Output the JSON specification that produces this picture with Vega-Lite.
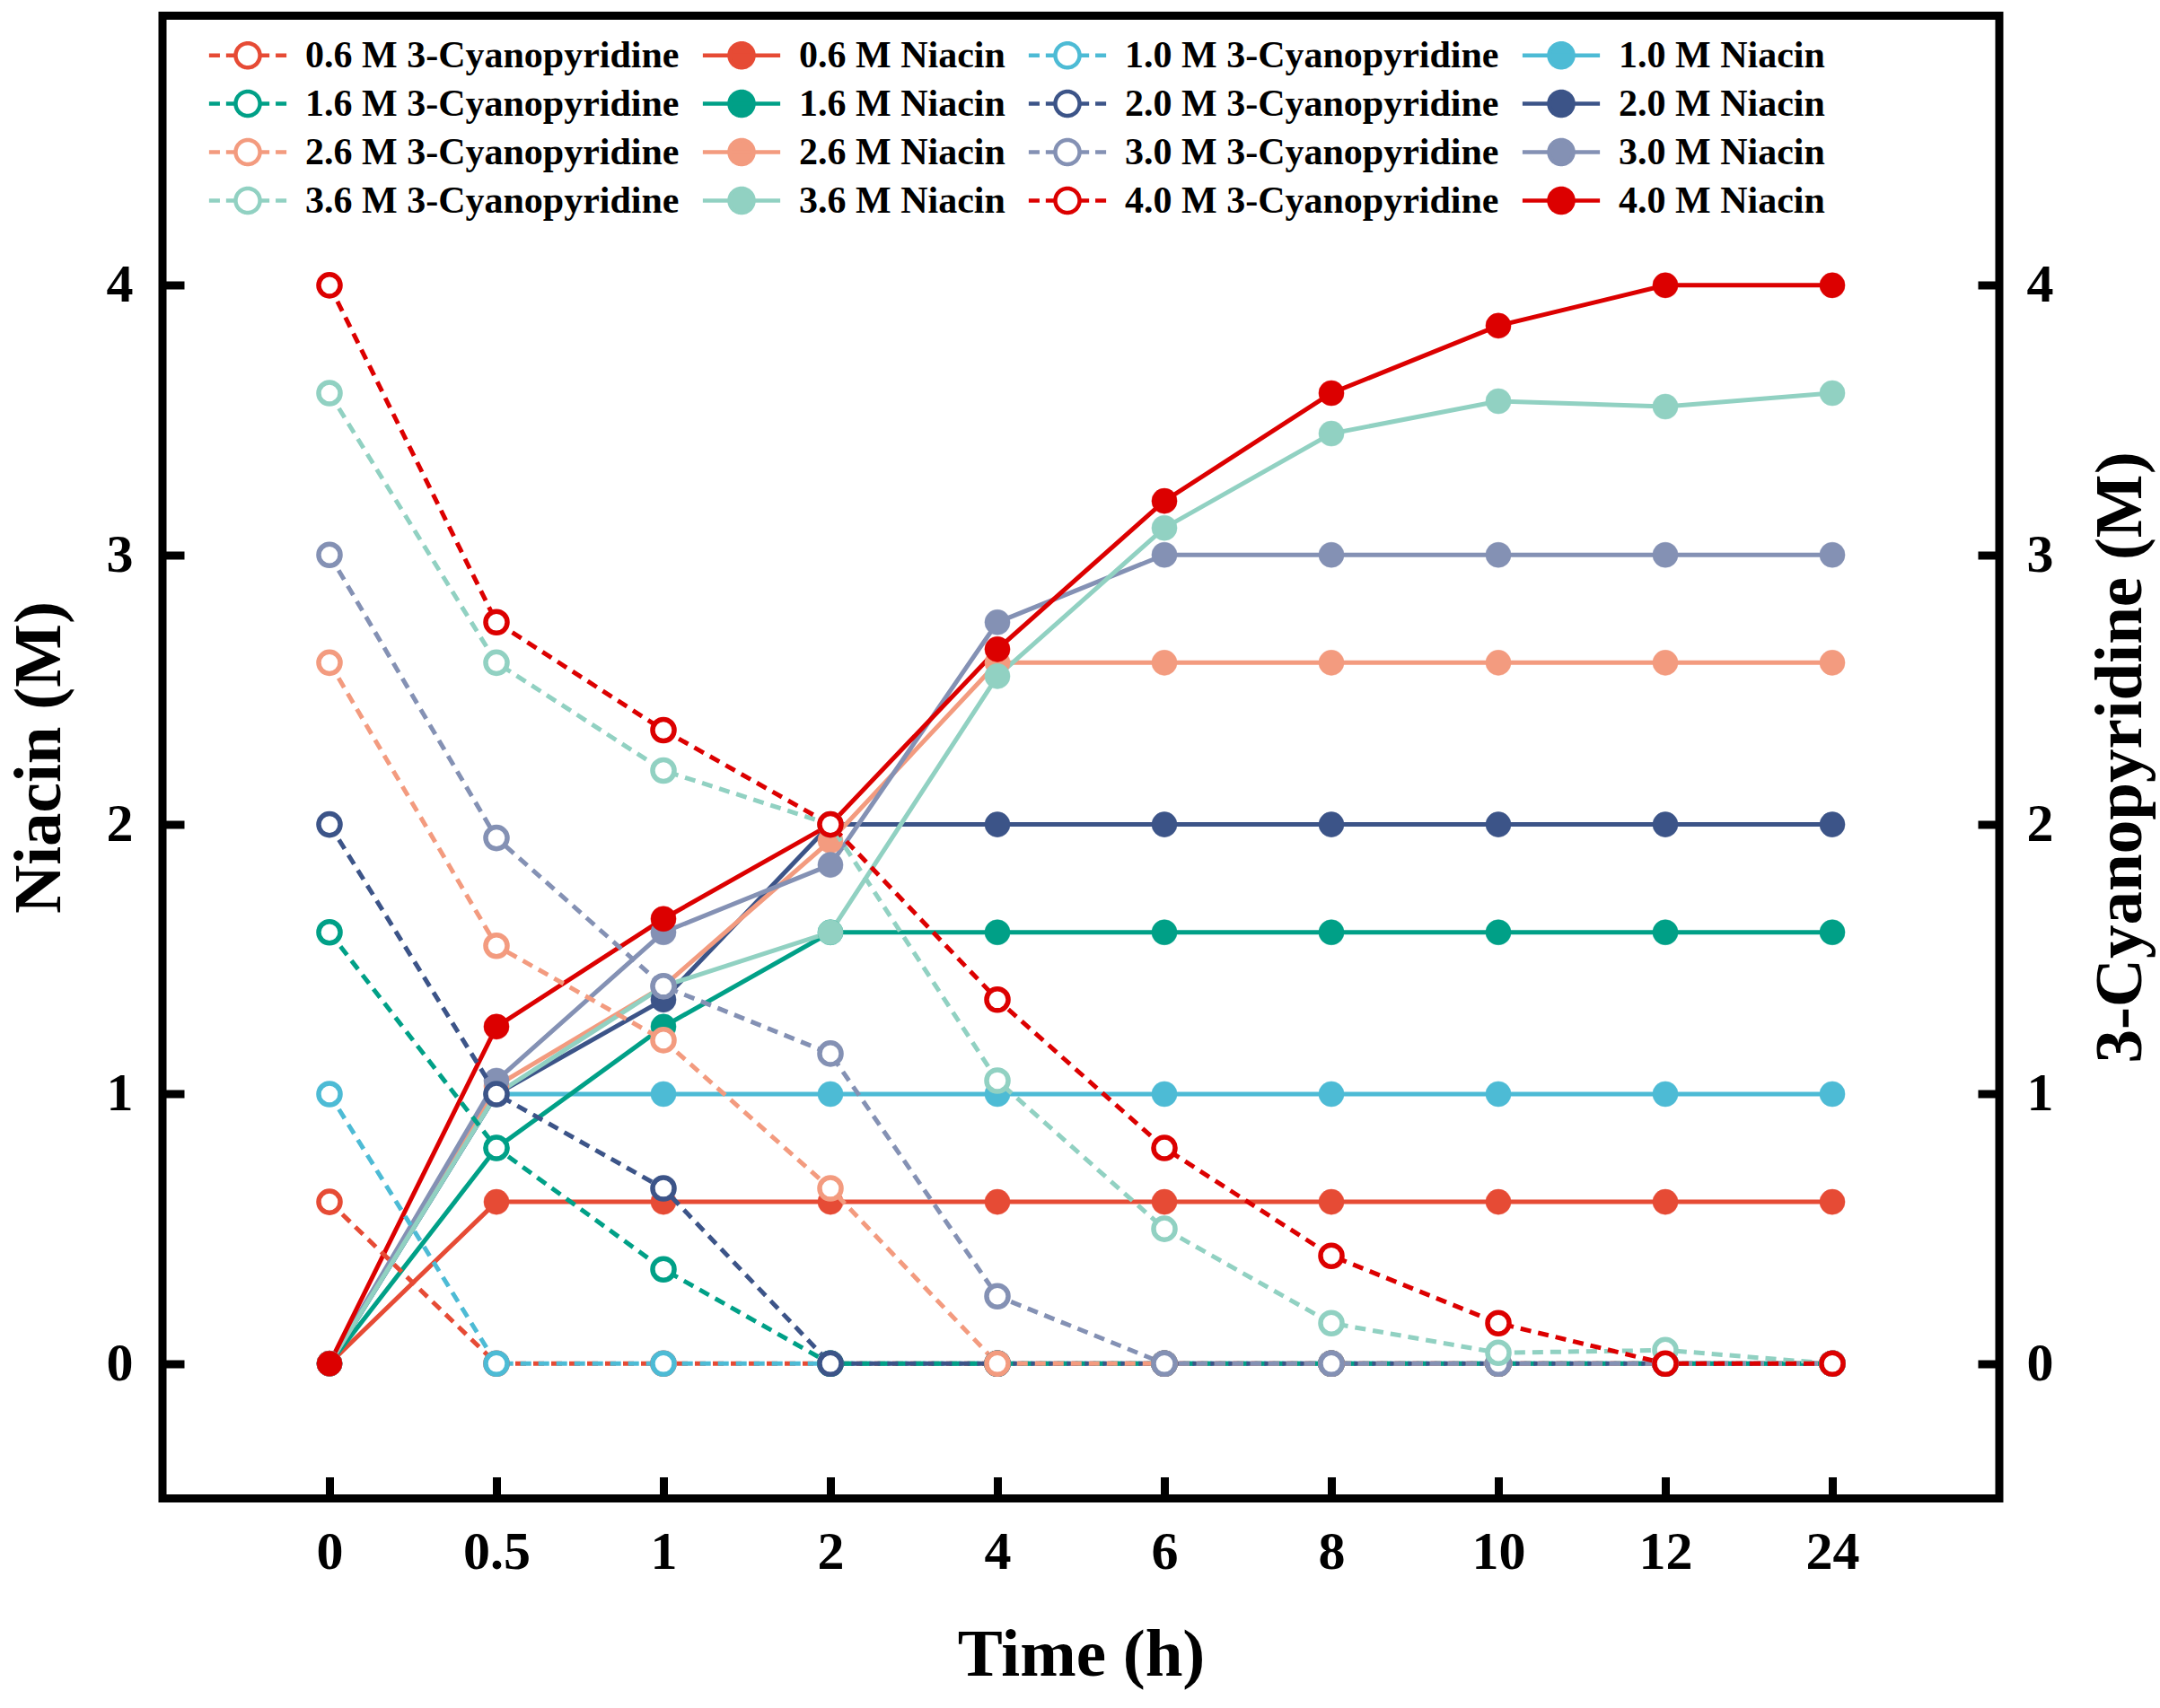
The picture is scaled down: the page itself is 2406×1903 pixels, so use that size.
{
  "$schema": "https://vega.github.io/schema/vega-lite/v6.json",
  "width": 2046,
  "height": 1652,
  "autosize": {"type": "none"},
  "padding": {"left": 181, "top": 17.5, "right": 179, "bottom": 233},
  "background": "white",
  "data": {
    "values": [
      {"s": "0.6 M Niacin", "k": "N", "t": 0, "v": 0}, {"s": "0.6 M Niacin", "k": "N", "t": 0.5, "v": 0.6}, {"s": "0.6 M Niacin", "k": "N", "t": 1, "v": 0.6}, {"s": "0.6 M Niacin", "k": "N", "t": 2, "v": 0.6}, {"s": "0.6 M Niacin", "k": "N", "t": 4, "v": 0.6}, {"s": "0.6 M Niacin", "k": "N", "t": 6, "v": 0.6}, {"s": "0.6 M Niacin", "k": "N", "t": 8, "v": 0.6}, {"s": "0.6 M Niacin", "k": "N", "t": 10, "v": 0.6}, {"s": "0.6 M Niacin", "k": "N", "t": 12, "v": 0.6}, {"s": "0.6 M Niacin", "k": "N", "t": 24, "v": 0.6},
      {"s": "1.0 M Niacin", "k": "N", "t": 0, "v": 0}, {"s": "1.0 M Niacin", "k": "N", "t": 0.5, "v": 1.0}, {"s": "1.0 M Niacin", "k": "N", "t": 1, "v": 1.0}, {"s": "1.0 M Niacin", "k": "N", "t": 2, "v": 1.0}, {"s": "1.0 M Niacin", "k": "N", "t": 4, "v": 1.0}, {"s": "1.0 M Niacin", "k": "N", "t": 6, "v": 1.0}, {"s": "1.0 M Niacin", "k": "N", "t": 8, "v": 1.0}, {"s": "1.0 M Niacin", "k": "N", "t": 10, "v": 1.0}, {"s": "1.0 M Niacin", "k": "N", "t": 12, "v": 1.0}, {"s": "1.0 M Niacin", "k": "N", "t": 24, "v": 1.0},
      {"s": "1.6 M Niacin", "k": "N", "t": 0, "v": 0}, {"s": "1.6 M Niacin", "k": "N", "t": 0.5, "v": 0.8}, {"s": "1.6 M Niacin", "k": "N", "t": 1, "v": 1.25}, {"s": "1.6 M Niacin", "k": "N", "t": 2, "v": 1.6}, {"s": "1.6 M Niacin", "k": "N", "t": 4, "v": 1.6}, {"s": "1.6 M Niacin", "k": "N", "t": 6, "v": 1.6}, {"s": "1.6 M Niacin", "k": "N", "t": 8, "v": 1.6}, {"s": "1.6 M Niacin", "k": "N", "t": 10, "v": 1.6}, {"s": "1.6 M Niacin", "k": "N", "t": 12, "v": 1.6}, {"s": "1.6 M Niacin", "k": "N", "t": 24, "v": 1.6},
      {"s": "2.0 M Niacin", "k": "N", "t": 0, "v": 0}, {"s": "2.0 M Niacin", "k": "N", "t": 0.5, "v": 1.0}, {"s": "2.0 M Niacin", "k": "N", "t": 1, "v": 1.35}, {"s": "2.0 M Niacin", "k": "N", "t": 2, "v": 2.0}, {"s": "2.0 M Niacin", "k": "N", "t": 4, "v": 2.0}, {"s": "2.0 M Niacin", "k": "N", "t": 6, "v": 2.0}, {"s": "2.0 M Niacin", "k": "N", "t": 8, "v": 2.0}, {"s": "2.0 M Niacin", "k": "N", "t": 10, "v": 2.0}, {"s": "2.0 M Niacin", "k": "N", "t": 12, "v": 2.0}, {"s": "2.0 M Niacin", "k": "N", "t": 24, "v": 2.0},
      {"s": "2.6 M Niacin", "k": "N", "t": 0, "v": 0}, {"s": "2.6 M Niacin", "k": "N", "t": 0.5, "v": 1.03}, {"s": "2.6 M Niacin", "k": "N", "t": 1, "v": 1.4}, {"s": "2.6 M Niacin", "k": "N", "t": 2, "v": 1.94}, {"s": "2.6 M Niacin", "k": "N", "t": 4, "v": 2.6}, {"s": "2.6 M Niacin", "k": "N", "t": 6, "v": 2.6}, {"s": "2.6 M Niacin", "k": "N", "t": 8, "v": 2.6}, {"s": "2.6 M Niacin", "k": "N", "t": 10, "v": 2.6}, {"s": "2.6 M Niacin", "k": "N", "t": 12, "v": 2.6}, {"s": "2.6 M Niacin", "k": "N", "t": 24, "v": 2.6},
      {"s": "3.0 M Niacin", "k": "N", "t": 0, "v": 0}, {"s": "3.0 M Niacin", "k": "N", "t": 0.5, "v": 1.05}, {"s": "3.0 M Niacin", "k": "N", "t": 1, "v": 1.6}, {"s": "3.0 M Niacin", "k": "N", "t": 2, "v": 1.85}, {"s": "3.0 M Niacin", "k": "N", "t": 4, "v": 2.75}, {"s": "3.0 M Niacin", "k": "N", "t": 6, "v": 3.0}, {"s": "3.0 M Niacin", "k": "N", "t": 8, "v": 3.0}, {"s": "3.0 M Niacin", "k": "N", "t": 10, "v": 3.0}, {"s": "3.0 M Niacin", "k": "N", "t": 12, "v": 3.0}, {"s": "3.0 M Niacin", "k": "N", "t": 24, "v": 3.0},
      {"s": "3.6 M Niacin", "k": "N", "t": 0, "v": 0}, {"s": "3.6 M Niacin", "k": "N", "t": 0.5, "v": 1.0}, {"s": "3.6 M Niacin", "k": "N", "t": 1, "v": 1.4}, {"s": "3.6 M Niacin", "k": "N", "t": 2, "v": 1.6}, {"s": "3.6 M Niacin", "k": "N", "t": 4, "v": 2.55}, {"s": "3.6 M Niacin", "k": "N", "t": 6, "v": 3.1}, {"s": "3.6 M Niacin", "k": "N", "t": 8, "v": 3.45}, {"s": "3.6 M Niacin", "k": "N", "t": 10, "v": 3.57}, {"s": "3.6 M Niacin", "k": "N", "t": 12, "v": 3.55}, {"s": "3.6 M Niacin", "k": "N", "t": 24, "v": 3.6},
      {"s": "4.0 M Niacin", "k": "N", "t": 0, "v": 0}, {"s": "4.0 M Niacin", "k": "N", "t": 0.5, "v": 1.25}, {"s": "4.0 M Niacin", "k": "N", "t": 1, "v": 1.65}, {"s": "4.0 M Niacin", "k": "N", "t": 2, "v": 2.0}, {"s": "4.0 M Niacin", "k": "N", "t": 4, "v": 2.65}, {"s": "4.0 M Niacin", "k": "N", "t": 6, "v": 3.2}, {"s": "4.0 M Niacin", "k": "N", "t": 8, "v": 3.6}, {"s": "4.0 M Niacin", "k": "N", "t": 10, "v": 3.85}, {"s": "4.0 M Niacin", "k": "N", "t": 12, "v": 4.0}, {"s": "4.0 M Niacin", "k": "N", "t": 24, "v": 4.0},
      {"s": "0.6 M 3-Cyanopyridine", "k": "C", "t": 0, "v": 0.6}, {"s": "0.6 M 3-Cyanopyridine", "k": "C", "t": 0.5, "v": 0}, {"s": "0.6 M 3-Cyanopyridine", "k": "C", "t": 1, "v": 0}, {"s": "0.6 M 3-Cyanopyridine", "k": "C", "t": 2, "v": 0}, {"s": "0.6 M 3-Cyanopyridine", "k": "C", "t": 4, "v": 0}, {"s": "0.6 M 3-Cyanopyridine", "k": "C", "t": 6, "v": 0}, {"s": "0.6 M 3-Cyanopyridine", "k": "C", "t": 8, "v": 0}, {"s": "0.6 M 3-Cyanopyridine", "k": "C", "t": 10, "v": 0}, {"s": "0.6 M 3-Cyanopyridine", "k": "C", "t": 12, "v": 0}, {"s": "0.6 M 3-Cyanopyridine", "k": "C", "t": 24, "v": 0},
      {"s": "1.0 M 3-Cyanopyridine", "k": "C", "t": 0, "v": 1.0}, {"s": "1.0 M 3-Cyanopyridine", "k": "C", "t": 0.5, "v": 0}, {"s": "1.0 M 3-Cyanopyridine", "k": "C", "t": 1, "v": 0}, {"s": "1.0 M 3-Cyanopyridine", "k": "C", "t": 2, "v": 0}, {"s": "1.0 M 3-Cyanopyridine", "k": "C", "t": 4, "v": 0}, {"s": "1.0 M 3-Cyanopyridine", "k": "C", "t": 6, "v": 0}, {"s": "1.0 M 3-Cyanopyridine", "k": "C", "t": 8, "v": 0}, {"s": "1.0 M 3-Cyanopyridine", "k": "C", "t": 10, "v": 0}, {"s": "1.0 M 3-Cyanopyridine", "k": "C", "t": 12, "v": 0}, {"s": "1.0 M 3-Cyanopyridine", "k": "C", "t": 24, "v": 0},
      {"s": "1.6 M 3-Cyanopyridine", "k": "C", "t": 0, "v": 1.6}, {"s": "1.6 M 3-Cyanopyridine", "k": "C", "t": 0.5, "v": 0.8}, {"s": "1.6 M 3-Cyanopyridine", "k": "C", "t": 1, "v": 0.35}, {"s": "1.6 M 3-Cyanopyridine", "k": "C", "t": 2, "v": 0}, {"s": "1.6 M 3-Cyanopyridine", "k": "C", "t": 4, "v": 0}, {"s": "1.6 M 3-Cyanopyridine", "k": "C", "t": 6, "v": 0}, {"s": "1.6 M 3-Cyanopyridine", "k": "C", "t": 8, "v": 0}, {"s": "1.6 M 3-Cyanopyridine", "k": "C", "t": 10, "v": 0}, {"s": "1.6 M 3-Cyanopyridine", "k": "C", "t": 12, "v": 0}, {"s": "1.6 M 3-Cyanopyridine", "k": "C", "t": 24, "v": 0},
      {"s": "2.0 M 3-Cyanopyridine", "k": "C", "t": 0, "v": 2.0}, {"s": "2.0 M 3-Cyanopyridine", "k": "C", "t": 0.5, "v": 1.0}, {"s": "2.0 M 3-Cyanopyridine", "k": "C", "t": 1, "v": 0.65}, {"s": "2.0 M 3-Cyanopyridine", "k": "C", "t": 2, "v": 0}, {"s": "2.0 M 3-Cyanopyridine", "k": "C", "t": 4, "v": 0}, {"s": "2.0 M 3-Cyanopyridine", "k": "C", "t": 6, "v": 0}, {"s": "2.0 M 3-Cyanopyridine", "k": "C", "t": 8, "v": 0}, {"s": "2.0 M 3-Cyanopyridine", "k": "C", "t": 10, "v": 0}, {"s": "2.0 M 3-Cyanopyridine", "k": "C", "t": 12, "v": 0}, {"s": "2.0 M 3-Cyanopyridine", "k": "C", "t": 24, "v": 0},
      {"s": "2.6 M 3-Cyanopyridine", "k": "C", "t": 0, "v": 2.6}, {"s": "2.6 M 3-Cyanopyridine", "k": "C", "t": 0.5, "v": 1.55}, {"s": "2.6 M 3-Cyanopyridine", "k": "C", "t": 1, "v": 1.2}, {"s": "2.6 M 3-Cyanopyridine", "k": "C", "t": 2, "v": 0.65}, {"s": "2.6 M 3-Cyanopyridine", "k": "C", "t": 4, "v": 0}, {"s": "2.6 M 3-Cyanopyridine", "k": "C", "t": 6, "v": 0}, {"s": "2.6 M 3-Cyanopyridine", "k": "C", "t": 8, "v": 0}, {"s": "2.6 M 3-Cyanopyridine", "k": "C", "t": 10, "v": 0}, {"s": "2.6 M 3-Cyanopyridine", "k": "C", "t": 12, "v": 0}, {"s": "2.6 M 3-Cyanopyridine", "k": "C", "t": 24, "v": 0},
      {"s": "3.0 M 3-Cyanopyridine", "k": "C", "t": 0, "v": 3.0}, {"s": "3.0 M 3-Cyanopyridine", "k": "C", "t": 0.5, "v": 1.95}, {"s": "3.0 M 3-Cyanopyridine", "k": "C", "t": 1, "v": 1.4}, {"s": "3.0 M 3-Cyanopyridine", "k": "C", "t": 2, "v": 1.15}, {"s": "3.0 M 3-Cyanopyridine", "k": "C", "t": 4, "v": 0.25}, {"s": "3.0 M 3-Cyanopyridine", "k": "C", "t": 6, "v": 0}, {"s": "3.0 M 3-Cyanopyridine", "k": "C", "t": 8, "v": 0}, {"s": "3.0 M 3-Cyanopyridine", "k": "C", "t": 10, "v": 0}, {"s": "3.0 M 3-Cyanopyridine", "k": "C", "t": 12, "v": 0}, {"s": "3.0 M 3-Cyanopyridine", "k": "C", "t": 24, "v": 0},
      {"s": "3.6 M 3-Cyanopyridine", "k": "C", "t": 0, "v": 3.6}, {"s": "3.6 M 3-Cyanopyridine", "k": "C", "t": 0.5, "v": 2.6}, {"s": "3.6 M 3-Cyanopyridine", "k": "C", "t": 1, "v": 2.2}, {"s": "3.6 M 3-Cyanopyridine", "k": "C", "t": 2, "v": 2.0}, {"s": "3.6 M 3-Cyanopyridine", "k": "C", "t": 4, "v": 1.05}, {"s": "3.6 M 3-Cyanopyridine", "k": "C", "t": 6, "v": 0.5}, {"s": "3.6 M 3-Cyanopyridine", "k": "C", "t": 8, "v": 0.15}, {"s": "3.6 M 3-Cyanopyridine", "k": "C", "t": 10, "v": 0.04}, {"s": "3.6 M 3-Cyanopyridine", "k": "C", "t": 12, "v": 0.05}, {"s": "3.6 M 3-Cyanopyridine", "k": "C", "t": 24, "v": 0},
      {"s": "4.0 M 3-Cyanopyridine", "k": "C", "t": 0, "v": 4.0}, {"s": "4.0 M 3-Cyanopyridine", "k": "C", "t": 0.5, "v": 2.75}, {"s": "4.0 M 3-Cyanopyridine", "k": "C", "t": 1, "v": 2.35}, {"s": "4.0 M 3-Cyanopyridine", "k": "C", "t": 2, "v": 2.0}, {"s": "4.0 M 3-Cyanopyridine", "k": "C", "t": 4, "v": 1.35}, {"s": "4.0 M 3-Cyanopyridine", "k": "C", "t": 6, "v": 0.8}, {"s": "4.0 M 3-Cyanopyridine", "k": "C", "t": 8, "v": 0.4}, {"s": "4.0 M 3-Cyanopyridine", "k": "C", "t": 10, "v": 0.15}, {"s": "4.0 M 3-Cyanopyridine", "k": "C", "t": 12, "v": 0}, {"s": "4.0 M 3-Cyanopyridine", "k": "C", "t": 24, "v": 0}
    ]
  },
  "encoding": {
    "x": {
      "field": "t",
      "type": "ordinal",
      "scale": {"type": "point", "padding": 1},
      "axis": {"title": "Time (h)", "labelAngle": 0, "labelPadding": 55, "titlePadding": 48}
    },
    "order": {"field": "t", "type": "quantitative"},
    "color": {
      "field": "s",
      "type": "nominal",
      "scale": {
        "domain": ["0.6 M 3-Cyanopyridine", "1.6 M 3-Cyanopyridine", "2.6 M 3-Cyanopyridine", "3.6 M 3-Cyanopyridine", "0.6 M Niacin", "1.6 M Niacin", "2.6 M Niacin", "3.6 M Niacin", "1.0 M 3-Cyanopyridine", "2.0 M 3-Cyanopyridine", "3.0 M 3-Cyanopyridine", "4.0 M 3-Cyanopyridine", "1.0 M Niacin", "2.0 M Niacin", "3.0 M Niacin", "4.0 M Niacin"],
        "range": ["#E64B35", "#00A087", "#F39B7F", "#91D1C2", "#E64B35", "#00A087", "#F39B7F", "#91D1C2", "#4DBBD5", "#3C5488", "#8491B4", "#DC0000", "#4DBBD5", "#3C5488", "#8491B4", "#DC0000"]
      },
      "legend": {
        "title": null,
        "orient": "none",
        "legendX": 52,
        "legendY": 13,
        "columns": 4,
        "gridAlign": "each",
        "columnPadding": 16,
        "rowPadding": 0,
        "labelFont": "Liberation Serif",
        "labelFontWeight": "bold",
        "labelFontSize": 42,
        "labelColor": "black",
        "labelLimit": 0,
        "labelOffset": 33,
        "symbolOffset": 12,
        "symbolSize": 3306,
        "symbolStrokeWidth": 4.5,
        "encode": {
          "symbols": {
            "update": {
              "shape": {"signal": "indexof(datum.value, 'Niacin') >= 0 ? 'M-1.5,0L1.5,0M0.47,0A0.47,0.47,0,1,1,-0.47,0A0.47,0.47,0,1,1,0.47,0Z' : 'M-1.5,0L-1.08,0M-0.84,0L-0.47,0M0.47,0L0.84,0M1.08,0L1.5,0M0.47,0A0.47,0.47,0,1,1,-0.47,0A0.47,0.47,0,1,1,0.47,0Z'"},
              "fill": {"signal": "indexof(datum.value, 'Niacin') >= 0 ? scale('color', datum.value) : 'white'"},
              "strokeWidth": {"value": 4.5},
              "strokeDash": {"value": [1, 0]},
              "opacity": {"value": 1},
              "fillOpacity": {"value": 1},
              "size": {"value": 3306}
            }
          }
        }
      }
    }
  },
  "layer": [
    {
      "transform": [{"filter": "datum.k == 'N'"}],
      "mark": {"type": "line", "strokeWidth": 5},
      "encoding": {
        "y": {
          "field": "v",
          "type": "quantitative",
          "scale": {"domain": [-0.5, 5], "nice": false, "zero": false},
          "axis": {"orient": "left", "title": "Niacin (M)", "values": [0, 1, 2, 3, 4], "format": "d", "labelPadding": 57, "titlePadding": 36}
        }
      }
    },
    {
      "transform": [{"filter": "datum.k == 'N'"}],
      "mark": {"type": "point", "shape": "circle", "filled": false, "strokeWidth": 0.5, "size": 790, "opacity": 1},
      "encoding": {
        "y": {"field": "v", "type": "quantitative", "axis": null},
        "fill": {
          "field": "s",
          "type": "nominal",
          "legend": null,
          "scale": {
            "domain": ["0.6 M Niacin", "1.0 M Niacin", "1.6 M Niacin", "2.0 M Niacin", "2.6 M Niacin", "3.0 M Niacin", "3.6 M Niacin", "4.0 M Niacin"],
            "range": ["#E64B35", "#4DBBD5", "#00A087", "#3C5488", "#F39B7F", "#8491B4", "#91D1C2", "#DC0000"]
          }
        }
      }
    },
    {
      "transform": [{"filter": "datum.k == 'C'"}],
      "mark": {"type": "line", "strokeWidth": 5, "strokeDash": [12, 8]},
      "encoding": {
        "y": {
          "field": "v",
          "type": "quantitative",
          "axis": {"orient": "right", "title": "3-Cyanopyridine (M)", "values": [0, 1, 2, 3, 4], "format": "d", "labelPadding": 54, "titlePadding": 38, "titleAngle": 270, "titleBaseline": "top"}
        }
      }
    },
    {
      "transform": [{"filter": "datum.k == 'C'"}],
      "mark": {"type": "point", "shape": "circle", "filled": false, "fill": "white", "fillOpacity": 1, "strokeWidth": 5.5, "size": 580, "opacity": 1},
      "encoding": {
        "y": {"field": "v", "type": "quantitative", "axis": null}
      }
    }
  ],
  "resolve": {"scale": {"y": "shared"}, "axis": {"y": "independent"}},
  "config": {
    "view": {"stroke": "black", "strokeWidth": 9},
    "axis": {
      "domain": false,
      "grid": false,
      "tickSize": -24,
      "tickWidth": 9,
      "tickColor": "black",
      "labelFont": "Liberation Serif",
      "labelFontSize": 60,
      "labelFontWeight": "bold",
      "labelColor": "black",
      "titleFont": "Liberation Serif",
      "titleFontSize": 75,
      "titleFontWeight": "bold",
      "titleColor": "black"
    }
  }
}
